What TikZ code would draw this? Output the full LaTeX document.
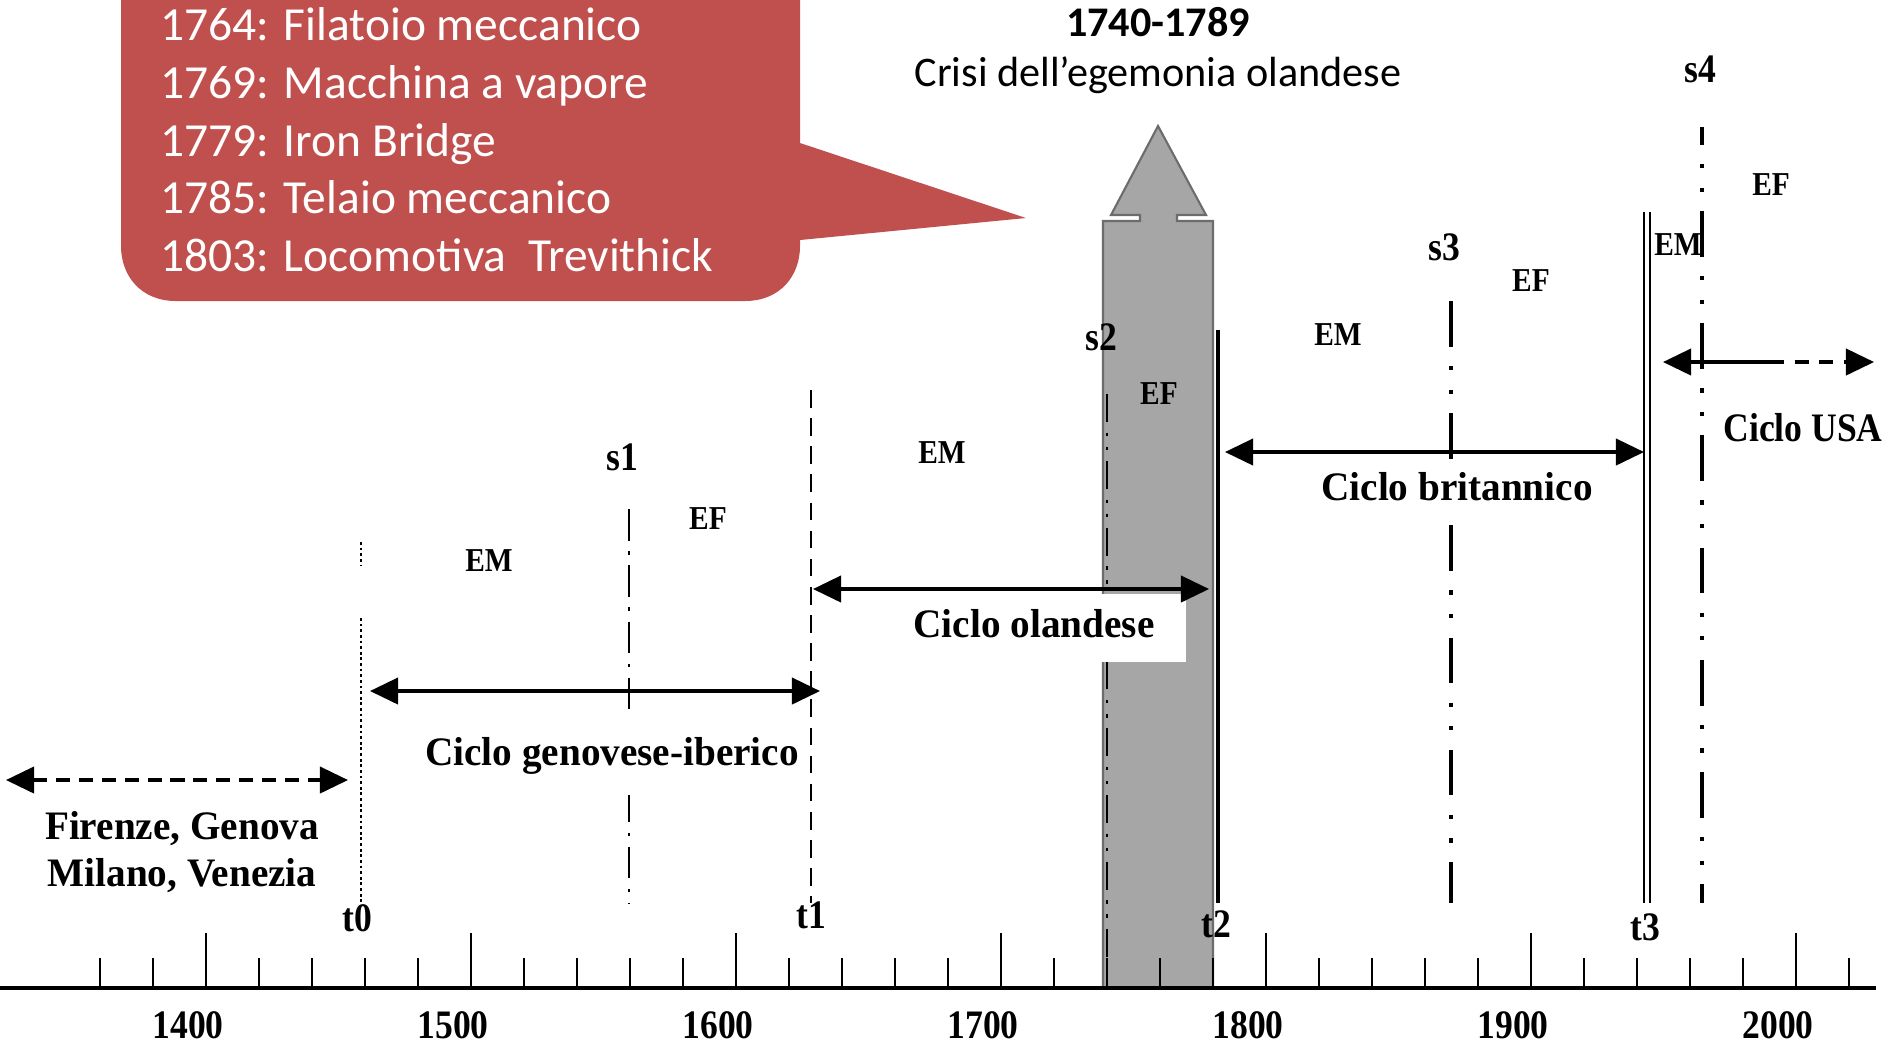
\documentclass[tikz,border=0pt]{standalone}
\usepackage{fontspec}
\setmainfont{Carlito}
\newfontfamily\oldserif[FakeStretch=0.88]{Liberation Serif}
\newfontfamily\cycleserif[FakeStretch=0.97]{Liberation Serif}
\usetikzlibrary{arrows.meta}
\definecolor{calloutred}{HTML}{C0504D}
\definecolor{bargray}{HTML}{A6A6A6}

\begin{document}
\begin{tikzpicture}[x=0.01cm,y=-0.01cm]
      \tikzset{serif/.style={font=\oldserif\bfseries\fontsize{11.5}{13.4}\selectfont, inner sep=1pt, align=center},
          phase/.style={font=\oldserif\bfseries\fontsize{9.5}{10}\selectfont, inner sep=1pt},
          cyclename/.style={serif, font=\cycleserif\bfseries\fontsize{11.5}{13.4}\selectfont},
          cyclelbl/.style={cyclename, fill=white, inner xsep=2pt, inner ysep=0.2cm},
          tick/.style={line width=0.8pt},
          span/.style={line width=0.9pt, {Triangle[length=8pt,width=7.5pt]}-{Triangle[length=8pt,width=7.5pt]}},
          thinddot/.style={line width=0.6pt, dash pattern=on 8pt off 3pt on 1pt off 3pt on 1pt off 3pt},
          thickddot/.style={line width=1.4pt, dash pattern=on 13pt off 5.5pt on 1.2pt off 5.5pt on 1.2pt off 5.5pt}
      }
      \useasboundingbox (0,0) rectangle (1901,1044);

      % callout
      \fill [calloutred] (800,143) -- (800,-5) -- (121,-5) -- (121,246)
          .. controls (121,276) and (141,301) .. (176,301) -- (745,301)
          .. controls (780,301) and (800,276) .. (800,246) -- (800,240) -- (1026,218) -- cycle;
      \node [anchor=west, align=left, text=white, font=\fontsize{13.5}{16.4}\selectfont, inner sep=0pt] (events) at (160,140)
          {1764: Filatoio meccanico\\1769: Macchina a vapore\\1779: Iron Bridge\\1785: Telaio meccanico\\1803: Locomotiva\ \ Trevithick};
      \node [font=\bfseries\fontsize{12}{14}\selectfont] (crisisyears) at (1158,22) {1740-1789};
      \node [font=\fontsize{12}{14}\selectfont] (crisis) at (1158,75) {Crisi dell’egemonia olandese};

      % gray arrow 1740-1789
      \filldraw [fill=bargray, draw=gray!85!black, line width=0.6pt] (1103,988) -- (1103,221) -- (1140,221) -- (1140,215)
          -- (1111,215) -- (1158,126) -- (1206,215) -- (1177,215) -- (1177,221) -- (1213,221) -- (1213,988) -- cycle;

      % axis
      \coordinate (axisL) at (0,988);
      \coordinate (axisR) at (1876,988);
      \draw [line width=1pt] (axisL) -- (axisR);
      \foreach \yr in {1360,1380,...,2020}
        \draw [tick] ({206+(\yr-1400)*2.65},988) -- ++(0,-30);
      \foreach \yr in {1400,1500,...,2000}{
        \draw [tick] ({206+(\yr-1400)*2.65},988) -- ++(0,-55);
        \node [serif] (y\yr) at ({188+(\yr-1400)*2.65},1025) {\yr};
      }

      % turning points
      \coordinate (t0a) at (361,542); \coordinate (t0b) at (361,566);
      \coordinate (t0c) at (361,618); \coordinate (t0d) at (361,903);
      \draw [line width=0.8pt, dash pattern=on 0.8pt off 0.8pt] (t0a) -- (t0b) (t0c) -- (t0d);
      \coordinate (s1a) at (629,509); \coordinate (s1b) at (629,903);
      \draw [line width=0.6pt, dash pattern=on 9pt off 3pt on 1pt off 3pt] (s1a) -- (s1b);
      \coordinate (t1a) at (811,390); \coordinate (t1b) at (811,903);
      \draw [line width=0.6pt, dash pattern=on 5pt off 3pt] (t1a) -- (t1b);
      \coordinate (s2a) at (1107,394); \coordinate (s2b) at (1107,988);
      \draw [thinddot] (s2a) -- (s2b);
      \coordinate (t2a) at (1218,330); \coordinate (t2b) at (1218,903);
      \draw [line width=1.4pt] (t2a) -- (t2b);
      \coordinate (s3a) at (1451,301); \coordinate (s3b) at (1451,903);
      \draw [thickddot] (s3a) -- (s3b);
      \coordinate (t3a) at (1647,212); \coordinate (t3b) at (1647,903);
      \draw [double, double distance=1.3pt, line width=0.6pt] (t3a) -- (t3b);
      \coordinate (s4a) at (1702,127); \coordinate (s4b) at (1702,903);
      \draw [thickddot, dash phase=8pt] (s4a) -- (s4b);

      \node [serif] (t0) at (357,918) {t0};
      \node [serif] (t1) at (811,915) {t1};
      \node [serif] (t2) at (1216,924) {t2};
      \node [serif] (t3) at (1645,927) {t3};
      \node [serif] (s1) at (622,457) {s1};
      \node [serif] (s2) at (1101,337) {s2};
      \node [serif] (s3) at (1444,247) {s3};
      \node [serif] (s4) at (1700,69) {s4};

      \node [phase] (em0) at (489,561) {EM};
      \node [phase] (ef0) at (708,519) {EF};
      \node [phase] (em1) at (942,453) {EM};
      \node [phase] (ef1) at (1159,394) {EF};
      \node [phase] (em2) at (1338,335) {EM};
      \node [phase] (ef2) at (1531,281) {EF};
      \node [phase] (em3) at (1678,245) {EM};
      \node [phase] (ef3) at (1771,185) {EF};

      % cycles
      \coordinate (citiesL) at (6,780); \coordinate (citiesR) at (348,780);
      \draw [span, dash pattern=on 4pt off 2.5pt] (citiesL) -- (citiesR);
      \node [cyclename] (cities) at (182,852) {Firenze, Genova\\Milano, Venezia};

      \coordinate (genL) at (370,691); \coordinate (genR) at (820,691);
      \draw [span] (genL) -- (genR);
      \node [cyclelbl] (genoese) at (612,756) {Ciclo genovese-iberico};

      \fill [white] (824,594) rectangle (1186,662);
      \coordinate (dutchL) at (813,589); \coordinate (dutchR) at (1209,589);
      \draw [span] (dutchL) -- (dutchR);
      \node [cyclename] (dutch) at (1034,624) {Ciclo olandese};

      \coordinate (britL) at (1225,452); \coordinate (britR) at (1644,452);
      \node [cyclelbl, inner ysep=2pt] (british) at (1457,487) {Ciclo britannico};
      \draw [span] (britL) -- (britR);

      \coordinate (usaL) at (1663,362); \coordinate (usaM) at (1770,362); \coordinate (usaR) at (1874,362);
      \draw [line width=0.9pt, {Triangle[length=8pt,width=7.5pt]}-] (usaL) -- (usaM);
      \draw [line width=0.9pt, dash pattern=on 4pt off 3pt, -{Triangle[length=8pt,width=7.5pt]}] (usaM) -- (usaR);
      \node [serif] (usa) at (1803,428) {Ciclo USA};
\end{tikzpicture}
\end{document}
